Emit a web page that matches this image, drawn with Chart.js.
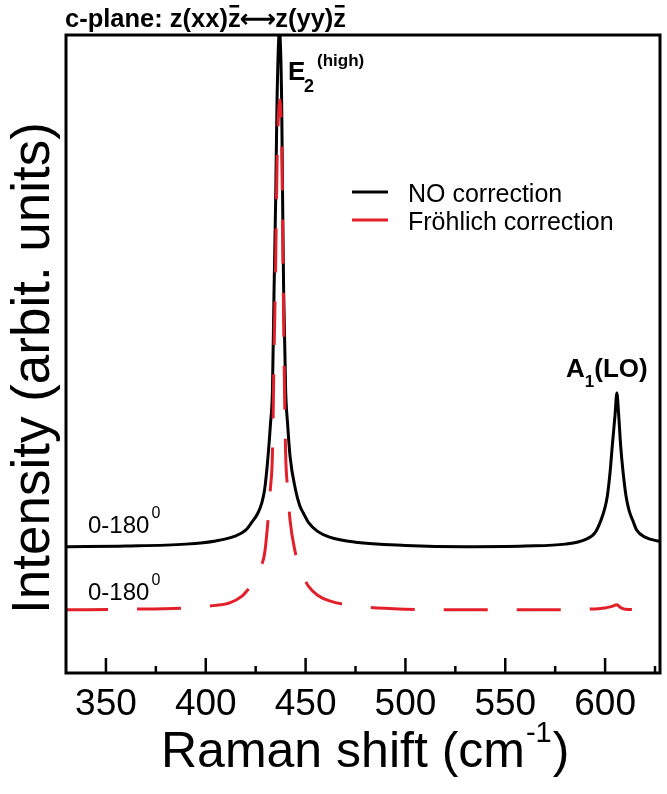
<!DOCTYPE html>
<html><head><meta charset="utf-8">
<script src="https://cdn.jsdelivr.net/npm/chart.js@4.4.1/dist/chart.umd.min.js"></script>
<style>html,body{margin:0;padding:0;background:#fff;}#wrap{width:667px;height:794px;position:relative;}</style>
</head><body><div id="wrap"><canvas id="c"></canvas></div>
<script>
// ---- data ----
const xTickValues = [350, 400, 450, 500, 550, 600];
const xMinorTicks = [375, 425, 475, 525, 575, 625];
const seriesNames = ["NO correction", "Fröhlich correction"];
const peakLabels = ["E", "2", "(high)", "A", "1", "(LO)"];
const blackX = [330,360,390,405,415,420,423,426,428,429.5,431.2,432.4,433.4,434.2,435,435.7,436.9,438.0,438.5,439.0,440.0,441,442.2,444.9,447,449,451.4,456,462,475,500,530,560,580,590,595,598,600,601.1,602.5,603.6,605,605.9,606.8,607.8,609,610.5,612,614,615.8,620,627.5];
const blackY = [19.8,19.9,20.2,20.7,21.5,22.4,23.6,25.0,26.6,28.8,34.0,39,44.4,60,74,89.8,100.5,89.8,74,60,44.4,39,34.0,28.8,26.3,25,23.6,22.2,21.3,20.5,20.0,19.8,19.9,20.2,20.9,22.0,24,26,27.7,31.5,35.6,40.5,43.9,40.5,35.6,31.5,27.7,25.5,23.8,22.4,21.3,20.6];
const redX = [330,360,390,405,412,418,422,425.3,427.5,429.5,431.2,432.4,433.4,434.2,435.0,435.7,437.1,438.2,438.7,439.2,440.0,441.0,442.2,444.9,447,449,451.4,456,462,475,500,530,570,590,600,603,606,607.5,610,627.5];
const redY = [9.9,10.0,10.2,10.6,11.0,12.0,13.4,14.7,16.5,18.8,24.0,29.0,34.4,50,64,79.8,89.8,79.8,64,50,34.4,29.0,24.0,18.8,16.3,15.0,13.6,12.2,11.3,10.5,10.0,9.9,9.9,10.0,10.2,10.4,10.7,10.3,10.0,9.9];

const FONT = '"Liberation Sans", Arial, Helvetica, sans-serif';
const RED = '#e3202a';

function pts(xs, ys){ return xs.map((x,i)=>({x:x, y:ys[i]})); }

function txt(ctx, s, x, y, size, bold, fam){
  ctx.font = (bold?'bold ':'') + size + 'px ' + (fam || FONT);
  ctx.fillText(s, x, y);
  return ctx.measureText(s).width;
}

const deco = {
  id: 'deco',
  afterDatasetsDraw(chart){
    const ctx = chart.ctx, a = chart.chartArea, xs = chart.scales.x;
    ctx.save();
    ctx.strokeStyle = '#000'; ctx.fillStyle = '#000';
    ctx.lineWidth = 3;
    ctx.strokeRect(a.left, a.top, a.right - a.left, a.bottom - a.top);
    ctx.lineWidth = 2.5;
    ctx.beginPath();
    xTickValues.forEach(v => { const p = xs.getPixelForValue(v); ctx.moveTo(p, a.bottom); ctx.lineTo(p, a.bottom - 15); });
    xMinorTicks.forEach(v => { const p = xs.getPixelForValue(v); ctx.moveTo(p, a.bottom); ctx.lineTo(p, a.bottom - 7); });
    ctx.stroke();

    ctx.textBaseline = 'alphabetic'; ctx.textAlign = 'left';
    // title
    let x = 65; const by = 27;
    const TS = 25.5;
    const bar = (x0, w) => { ctx.fillRect(x0 + w*0.12, by - 22, w*0.76, 2.5); };
    x += txt(ctx, 'c-plane: z(xx)', x, by, TS, true);
    let w = txt(ctx, 'z', x, by, TS, true); bar(x, w); x += w;
    x += txt(ctx, '\u27F7', x - 1, by, TS, true, '"DejaVu Sans", sans-serif') - 2;
    x += txt(ctx, 'z(yy)', x, by, TS, true);
    w = txt(ctx, 'z', x, by, TS, true); bar(x, w);

    // peak labels
    txt(ctx, peakLabels[0], 288, 80, 26, true);
    txt(ctx, peakLabels[1], 304, 92, 18, true);
    txt(ctx, peakLabels[2], 317, 66, 17, true);
    let ax = 566;
    ax += txt(ctx, peakLabels[3], ax, 377, 26, true);
    ax += txt(ctx, peakLabels[4], ax, 387, 17, true);
    txt(ctx, peakLabels[5], ax, 377, 26, true);

    // 0-180 degree labels
    let w1 = txt(ctx, '0-180', 88, 533, 24, false);
    txt(ctx, '0', 88 + w1 + 2, 518, 16, false);
    w1 = txt(ctx, '0-180', 88, 600, 24, false);
    txt(ctx, '0', 88 + w1 + 2, 585, 16, false);

    // legend
    ctx.lineWidth = 3;
    ctx.strokeStyle = '#000'; ctx.beginPath(); ctx.moveTo(352,192); ctx.lineTo(388,192); ctx.stroke();
    ctx.strokeStyle = RED; ctx.beginPath(); ctx.moveTo(352,220); ctx.lineTo(388,220); ctx.stroke();
    txt(ctx, seriesNames[0], 408, 202, 25, false);
    txt(ctx, seriesNames[1], 408, 230, 25, false);

    // axis titles
    let tx = 161; const ty = 767;
    tx += txt(ctx, 'Raman shift (cm', tx, ty, 50, false);
    tx += txt(ctx, '-1', tx + 1, ty - 25, 29, false) + 2;
    txt(ctx, ')', tx, ty, 50, false);

    ctx.save();
    ctx.translate(49, 368); ctx.rotate(-Math.PI/2);
    ctx.textAlign = 'center';
    txt(ctx, 'Intensity (arbit. units)', 0, 0, 53, false);
    ctx.restore();
    ctx.restore();
  }
};

new Chart(document.getElementById('c'), {
  type: 'line',
  data: {
    datasets: [
      { label: seriesNames[0], data: pts(blackX, blackY), borderColor: '#000', borderWidth: 3, pointRadius: 0, cubicInterpolationMode: 'monotone', order: 1 },
      { label: seriesNames[1], data: pts(redX, redY), borderColor: RED, borderWidth: 3, borderDash: [44, 29], borderDashOffset: 2, pointRadius: 0, cubicInterpolationMode: 'monotone', order: 0 }
    ]
  },
  options: {
    responsive: true, maintainAspectRatio: false, animation: false,
    layout: { padding: { left: 0, right: 7, top: 35, bottom: 0 } },
    plugins: { legend: { display: false }, tooltip: { enabled: false } },
    scales: {
      x: {
        type: 'linear', min: 330, max: 627.5,
        grid: { display: false, drawTicks: false },
        border: { display: false },
        afterBuildTicks: s => { s.ticks = xTickValues.map(v => ({ value: v })); },
        afterFit: s => { s.height = 121; },
        ticks: { color: '#000', padding: 10, font: { family: FONT, size: 37 }, maxRotation: 0, autoSkip: false }
      },
      y: {
        min: 0, max: 100,
        grid: { display: false, drawTicks: false },
        border: { display: false },
        ticks: { display: false },
        afterFit: s => { s.width = 66; }
      }
    }
  },
  plugins: [deco]
});
</script></body></html>
